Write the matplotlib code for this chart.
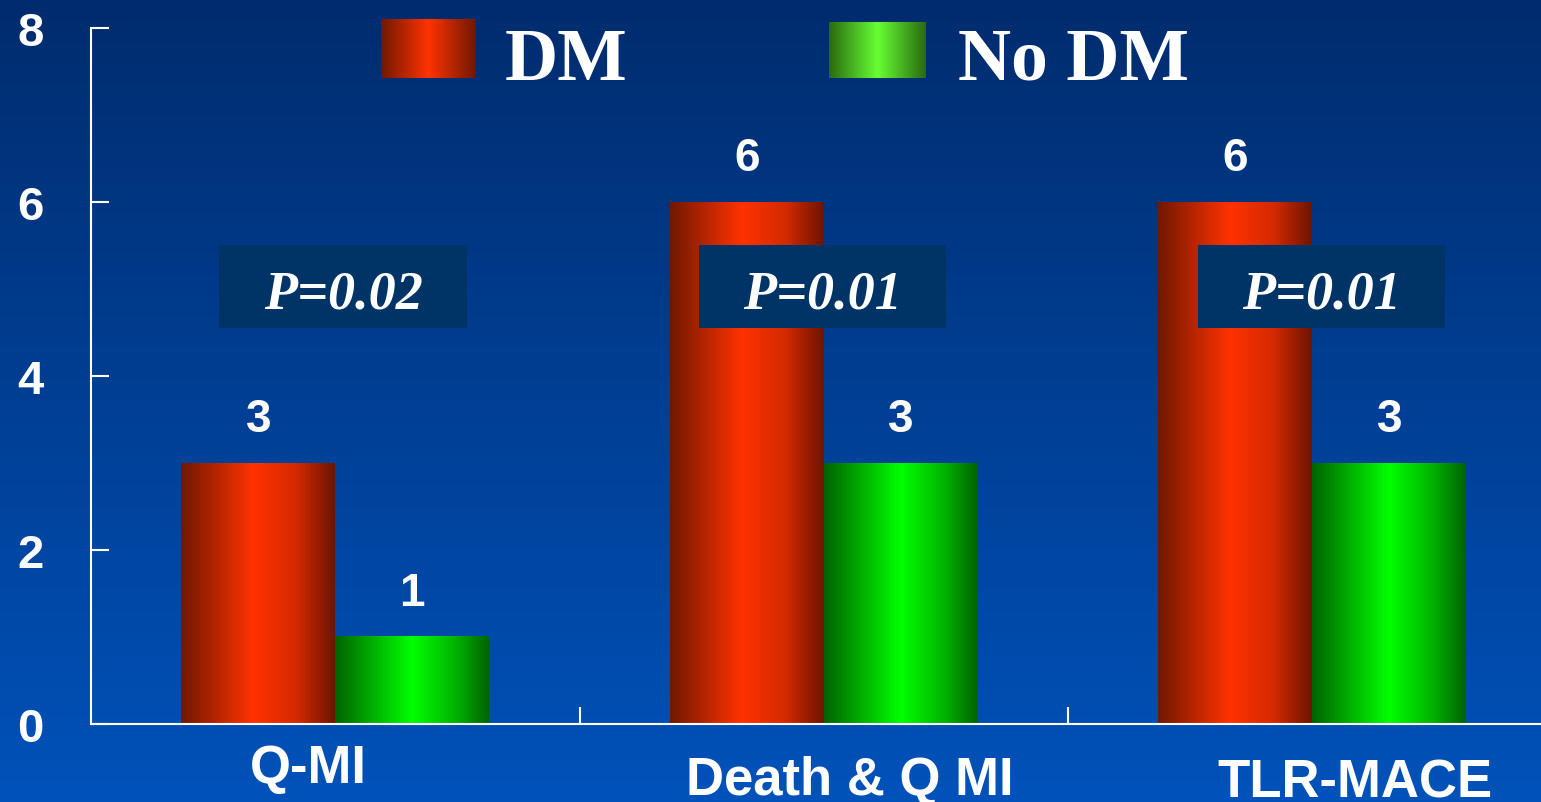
import numpy as np
import matplotlib
matplotlib.use("Agg")
import matplotlib.pyplot as plt
import matplotlib.transforms as mtransforms
from matplotlib.colors import LinearSegmentedColormap
from matplotlib.patches import Rectangle

# Event rates (%) by diabetic status
categories = ["Q-MI", "Death & Q MI", "TLR-MACE"]
series = ["DM", "No DM"]
dm_values = [3, 6, 6]
no_dm_values = [1, 3, 3]
p_values = ["P=0.02", "P=0.01", "P=0.01"]

W, H = 1541, 803
WHITE = "white"
SANS = "Liberation Sans"
SERIF = "Liberation Serif"

red_cmap = LinearSegmentedColormap.from_list(
    "red_bar", [(0, "#701800"), (0.47, "#ff3300"), (0.75, "#d42a00"), (1, "#6e1400")])
green_cmap = LinearSegmentedColormap.from_list(
    "green_bar", [(0, "#006400"), (0.5, "#00ff00"), (0.78, "#00b400"), (1, "#006400")])
red_key_cmap = LinearSegmentedColormap.from_list(
    "red_key", [(0, "#701800"), (0.5, "#ff3300"), (1, "#701800")])
green_key_cmap = LinearSegmentedColormap.from_list(
    "green_key", [(0, "#2a6a10"), (0.5, "#66ff33"), (1, "#2a6a10")])

fig = plt.figure(figsize=(W / 100, H / 100), dpi=100)

# vertical blue background gradient
bg = fig.add_axes([0, 0, 1, 1], zorder=0)
top = np.array([0, 44, 110]) / 255
bottom = np.array([0, 82, 186]) / 255
t = np.linspace(0, 1, 256)[:, None]
bg.imshow((top + (bottom - top) * t)[:, None, :], aspect="auto", extent=(0, 1, 0, 1))
bg.axis("off")

ax = fig.add_axes([91 / W, (H - 725) / H, 1450 / W, 696 / H], zorder=1)
ax.patch.set_alpha(0)

x = np.arange(len(categories))
width = 0.315
bars_dm = ax.bar(x - width / 2, dm_values, width, label=series[0])
bars_no = ax.bar(x + width / 2, no_dm_values, width, label=series[1])

# shade each bar with a horizontal cylinder-style gradient
ramp = np.linspace(0, 1, 256)[None, :]
for bars, cmap in [(bars_dm, red_cmap), (bars_no, green_cmap)]:
    for p in bars:
        x0, w, h = p.get_x(), p.get_width(), p.get_height()
        ax.imshow(ramp, cmap=cmap, aspect="auto", extent=(x0, x0 + w, 0, h),
                  zorder=2, interpolation="bilinear")
        p.set_visible(False)
        ax.annotate(str(int(h)), (x0 + w / 2, h), xytext=(0, 23),
                    textcoords="offset points", ha="center", va="baseline",
                    fontsize=33, fontweight="bold", color=WHITE, family=SANS)

# p-value boxes
box_dx = [0.016, -0.003, 0.018]
for i, p in enumerate(p_values):
    cx = x[i] + box_dx[i]
    ax.add_patch(Rectangle((cx - 0.253, 4.55), 0.506, 0.955,
                           facecolor="#003366", edgecolor="none", zorder=4))
    ax.text(cx, 4.79, p, ha="center", va="baseline", fontsize=39,
            fontweight="bold", fontstyle="italic", color=WHITE,
            family=SERIF, zorder=5)

ax.set_xlim(-0.5, 2.468)
ax.set_ylim(0, 8)

for side in ["top", "right"]:
    ax.spines[side].set_visible(False)
for side in ["left", "bottom"]:
    ax.spines[side].set_color(WHITE)
    ax.spines[side].set_linewidth(1.5)

ax.set_xticks([])
ax.set_xticks([0.5, 1.5], minor=True)
ax.tick_params(axis="x", which="minor", direction="in", length=12.5,
               width=1.5, color=WHITE)
ax.set_yticks(range(0, 9, 2))
ax.tick_params(axis="y", direction="in", length=13, width=1.5,
               colors=WHITE, labelsize=34, pad=34)
for lbl in ax.get_yticklabels():
    lbl.set_fontweight("bold")
    lbl.set_family(SANS)

# category names sit at slightly staggered positions under the axis
label_dx = [-0.056, 0.053, 0.088]
label_dy = [-0.083, -0.101, -0.104]
trans = mtransforms.blended_transform_factory(ax.transData, ax.transAxes)
for i, cat in enumerate(categories):
    ax.text(x[i] + label_dx[i], label_dy[i], cat, transform=trans,
            ha="center", va="baseline", fontsize=38, fontweight="bold",
            color=WHITE, family=SANS, clip_on=False)

# legend drawn as gradient swatches with large serif labels
keys = [((381, 20, 476, 79), red_key_cmap, 505),
        ((829, 23, 926, 79), green_key_cmap, 958)]
for name, (box, cmap, tx) in zip(series, keys):
    x0, y0, x1, y1 = box
    kax = fig.add_axes([x0 / W, (H - y1) / H, (x1 - x0) / W, (y1 - y0) / H], zorder=3)
    kax.imshow(ramp, cmap=cmap, aspect="auto", interpolation="bilinear")
    kax.axis("off")
    fig.text(tx / W, (H - 80) / H, name, ha="left", va="baseline",
             fontsize=53, fontweight="bold", color=WHITE, family=SERIF)

fig.savefig("out.png", dpi=100)
